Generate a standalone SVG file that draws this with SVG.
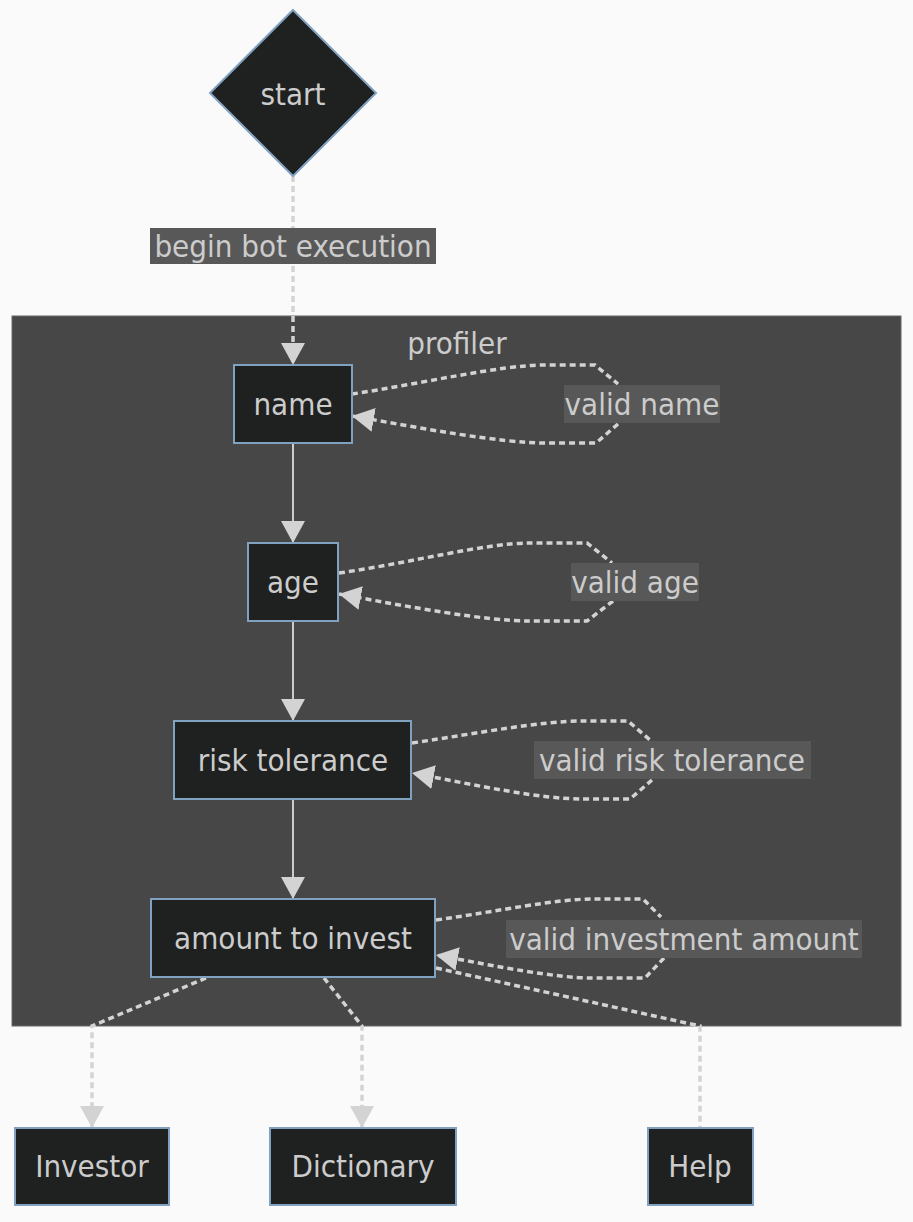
<svg xmlns="http://www.w3.org/2000/svg" width="913" height="1222" viewBox="0 0 913 1222">
<style>
text{font-family:"DejaVu Sans Condensed","DejaVu Sans",sans-serif;font-stretch:condensed;font-size:31px;fill:#cccccc;text-anchor:middle;dominant-baseline:central}
.node{fill:#1f2020;stroke:#81a1c1;stroke-width:2}
.lbl{fill:#585858}
.dot{fill:none;stroke:#d3d3d3;stroke-width:3.5;stroke-dasharray:6 4}
.solid{fill:none;stroke:#cccccc;stroke-width:2}
</style>
<defs>
<marker id="ah" viewBox="0 0 24 24" refX="22" refY="12" markerWidth="24" markerHeight="24" markerUnits="userSpaceOnUse" orient="auto">
<path d="M0,0 L22,12 L0,24 z" fill="#d3d3d3"/>
</marker>
</defs>
<rect width="913" height="1222" fill="#fafafa"/>
<g id="profiler">
<rect x="12" y="316" width="889" height="710" fill="#474747" stroke="#666666" stroke-width="1"/>
<text x="457" y="343">profiler</text>
</g>
<g id="connectors">
<path class="dot" d="M293,176 L293,365" marker-end="url(#ah)"/>
<rect class="lbl" x="150" y="228" width="286" height="36"/>
<text x="293" y="246">begin bot execution</text>
<path class="solid" d="M293,443 L293,543" marker-end="url(#ah)"/>
<path class="solid" d="M293,621 L293,721" marker-end="url(#ah)"/>
<path class="solid" d="M293,799 L293,899" marker-end="url(#ah)"/>
<path class="dot" d="M352,394 C420,384 500,365 545,365 L595,365 L618,384"/>
<path class="dot" d="M618,424 L596,443 L545,443 C500,443 420,428 352,416" marker-end="url(#ah)"/>
<rect class="lbl" x="564" y="385" width="156" height="38"/>
<text x="642" y="404">valid name</text>
<path class="dot" d="M339,573 C410,563 485,543 530,543 L587,543 L612,563"/>
<path class="dot" d="M613,601 L587,621 L530,621 C485,621 410,607 339,594" marker-end="url(#ah)"/>
<rect class="lbl" x="571" y="563" width="128" height="38"/>
<text x="635" y="582">valid age</text>
<path class="dot" d="M412,743 C480,733 540,721 583,721 L628,721 L650,740"/>
<path class="dot" d="M652,780 L630,799 L583,799 C540,799 480,786 412,773" marker-end="url(#ah)"/>
<rect class="lbl" x="534" y="741" width="277" height="38"/>
<text x="672" y="760">valid risk tolerance</text>
<path class="dot" d="M436,920 C500,911 555,899 593,899 L643,899 L661,917"/>
<path class="dot" d="M664,958 L645,978 L593,978 C555,978 500,967 436,955" marker-end="url(#ah)"/>
<rect class="lbl" x="506" y="920" width="356" height="38"/>
<text x="684" y="939">valid investment amount</text>
<path class="dot" d="M206,978 L92,1026 L92,1128" marker-end="url(#ah)"/>
<path class="dot" d="M324,978 L362,1026 L362,1128" marker-end="url(#ah)"/>
<path class="dot" d="M436,968 L700,1026 L700,1128"/>
</g>
<g id="start">
<path class="node" d="M293,10 L376,93 L293,176 L210,93 z"/>
<text x="293" y="94">start</text>
</g>
<g id="name">
<rect class="node" x="234" y="365" width="118" height="78"/>
<text x="293" y="404">name</text>
</g>
<g id="age">
<rect class="node" x="248" y="543" width="90" height="78"/>
<text x="293" y="582">age</text>
</g>
<g id="risk">
<rect class="node" x="174" y="721" width="237" height="78"/>
<text x="293" y="760">risk tolerance</text>
</g>
<g id="amount">
<rect class="node" x="151" y="899" width="284" height="78"/>
<text x="293" y="938">amount to invest</text>
</g>
<g id="investor">
<rect class="node" x="15" y="1128" width="154" height="77"/>
<text x="92" y="1166">Investor</text>
</g>
<g id="dictionary">
<rect class="node" x="270" y="1128" width="186" height="77"/>
<text x="363" y="1166">Dictionary</text>
</g>
<g id="help">
<rect class="node" x="648" y="1128" width="105" height="77"/>
<text x="700" y="1166">Help</text>
</g>
</svg>
